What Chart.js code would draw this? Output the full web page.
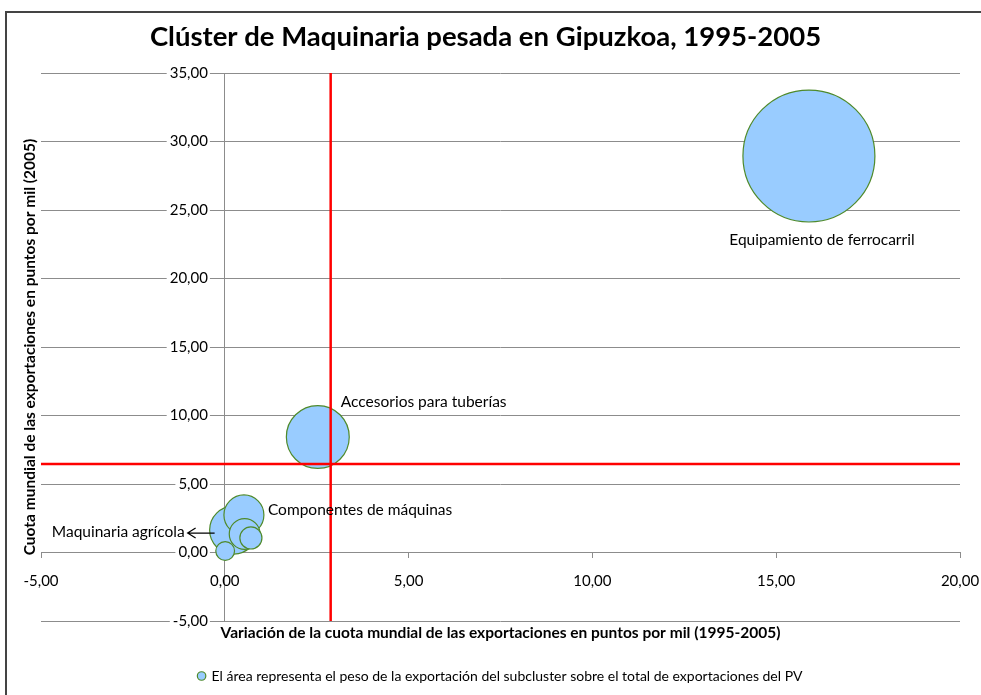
<!DOCTYPE html>
<html>
<head>
<meta charset="utf-8">
<title>Clúster de Maquinaria pesada en Gipuzkoa</title>
<script src="https://cdn.jsdelivr.net/npm/chart.js@4/dist/chart.umd.min.js"></script>
<style>
  html, body { margin: 0; padding: 0; background: #fff; }
  #wrap { position: relative; width: 981px; height: 695px; overflow: hidden; }
  #frame { position: absolute; left: 5px; top: 11px; width: 1000px; height: 700px;
           border-left: 2px solid #444; border-top: 2px solid #444; pointer-events: none; }
  canvas { position: absolute; left: 0; top: 0; }
</style>
</head>
<body>
<div id="wrap">
  <canvas id="myChart" width="981" height="695"></canvas>
  <div id="frame"></div>
</div>
<script>
// subclusters, drawn biggest first so the small ones stay on top
const subclusters = ["Equipamiento de ferrocarril", "Accesorios para tuberías", "Maquinaria agrícola",
  "Componentes de máquinas", null, null, null];
const variation = [15.89, 2.53, 0.24, 0.52, 0.54, 0.71, 0.01];   // x, puntos por mil 1995-2005
const share2005 = [28.94, 8.43, 1.64, 2.74, 1.35, 1.06, 0.11];    // y, puntos por mil 2005
const exportWeight = [64.3, 14.6, 8.5, 5.9, 3.5, 1.8, 1.3];       // % of PV exports -> bubble area

// average lines of the cluster
const avgVariation = 2.88;
const avgShare = 6.46;

const xTicks = { min: -5, max: 20, step: 5 };
const yTicks = { min: -5, max: 35, step: 5 };

const FONT = "Lato";
const fmt = v => Number(v).toFixed(2).replace(".", ",");
const bubbleScale = 8.23; // px of radius per sqrt(% weight)

Chart.defaults.font.family = FONT;
Chart.defaults.color = "#000";

// label placement next to each bubble (pixel offsets from its centre)
const labelPlacement = {
  "Equipamiento de ferrocarril": { dx: 13, dy: "below", gap: 18, align: "center" },
  "Accesorios para tuberías": { dx: 23, dy: -35, align: "left" },
  "Componentes de máquinas": { dx: 24, dy: -5, align: "left" },
  "Maquinaria agrícola": { dx: -49, dy: 2, align: "right", arrow: true }
};

const bubbleLabels = {
  id: "bubbleLabels",
  afterDatasetsDraw(chart) {
    const ctx = chart.ctx;
    const meta = chart.getDatasetMeta(0);
    ctx.save();
    ctx.font = "15.5px " + FONT;
    ctx.fillStyle = "#000";
    ctx.strokeStyle = "#000";
    ctx.textBaseline = "middle";
    subclusters.forEach((name, i) => {
      if (!name) return;
      const p = labelPlacement[name];
      const el = meta.data[i];
      const r = el.options.radius;
      const tx = el.x + p.dx;
      const ty = p.dy === "below" ? el.y + r + p.gap : el.y + p.dy;
      ctx.textAlign = p.align;
      ctx.fillText(name, tx, ty);
      if (p.arrow) {
        const x0 = el.x - 19, x1 = tx + 3, ay = ty + 1;
        ctx.lineWidth = 1.2;
        ctx.beginPath();
        ctx.moveTo(x0, ay);
        ctx.lineTo(x1, ay);
        ctx.moveTo(x1 + 8, ay - 5);
        ctx.lineTo(x1, ay);
        ctx.lineTo(x1 + 8, ay + 5);
        ctx.stroke();
      }
    });
    ctx.restore();
  }
};

const bubbles = variation.map((x, i) => ({
  x: x,
  y: share2005[i],
  r: bubbleScale * Math.sqrt(exportWeight[i])
}));

const data = {
  datasets: [
    {
      type: "bubble",
      label: "El área representa el peso de la exportación del subcluster sobre el total de exportaciones del PV",
      data: bubbles,
      backgroundColor: "#99CCFF",
      borderColor: "#4F8A2B",
      borderWidth: 1.2,
      order: 2
    },
    {
      type: "line",
      label: "media x",
      data: [{ x: avgVariation, y: yTicks.min }, { x: avgVariation, y: yTicks.max }],
      borderColor: "#FF0000",
      borderWidth: 2.5,
      pointRadius: 0,
      fill: false,
      order: 1
    },
    {
      type: "line",
      label: "media y",
      data: [{ x: xTicks.min, y: avgShare }, { x: xTicks.max, y: avgShare }],
      borderColor: "#FF0000",
      borderWidth: 2.5,
      pointRadius: 0,
      fill: false,
      order: 1
    }
  ]
};

const gridGrey = "#8C8C8C";

// the axes cross inside the plot, so they must not reserve room around it
const flatX = scale => { scale.height = 0; scale.paddingLeft = 0; scale.paddingRight = 0; };
const flatY = scale => { scale.width = 0; scale.paddingTop = 0; scale.paddingBottom = 0; };

const config = {
  type: "bubble",
  data: data,
  plugins: [bubbleLabels],
  options: {
    responsive: false,
    animation: false,
    devicePixelRatio: 1,
    events: [],
    layout: { autoPadding: false, padding: { left: 11, right: 21, top: 0, bottom: 2 } },
    plugins: {
      title: {
        display: true,
        text: "Clúster de Maquinaria pesada en Gipuzkoa, 1995-2005",
        font: { family: FONT, size: 27.5, weight: "bold" },
        color: "#000",
        padding: { top: 21, bottom: 19 }
      },
      legend: {
        position: "bottom",
        fullSize: false,
        labels: {
          filter: item => item.datasetIndex === 0,
          usePointStyle: true,
          pointStyle: "circle",
          boxWidth: 6,
          boxHeight: 6,
          padding: 10,
          font: { family: FONT, size: 14 },
          color: "#000"
        }
      },
      tooltip: { enabled: false }
    },
    scales: {
      x: {
        type: "linear",
        position: { y: 0 },
        min: xTicks.min,
        max: xTicks.max,
        afterFit: flatX,
        ticks: {
          stepSize: xTicks.step,
          callback: fmt,
          padding: 15,
          autoSkip: false,
          maxRotation: 0,
          font: { family: FONT, size: 15 },
          color: "#000"
        },
        // only the zero line is drawn across the plot (it is the vertical axis)
        grid: {
          drawOnChartArea: true,
          drawTicks: true,
          tickLength: 5,
          tickColor: gridGrey,
          color: c => (c.tick && c.tick.value === 0 ? gridGrey : "rgba(0,0,0,0)")
        },
        border: { color: gridGrey, width: 1 }
      },
      y: {
        type: "linear",
        // labels hang just left of the zero line
        position: { x: -0.46 },
        min: yTicks.min,
        max: yTicks.max,
        afterFit: flatY,
        ticks: {
          stepSize: yTicks.step,
          callback: fmt,
          padding: 0,
          font: { family: FONT, size: 15 },
          color: "#000",
          showLabelBackdrop: true,
          backdropColor: "#FFFFFF",
          backdropPadding: { left: 3, right: 2, top: 0, bottom: 0 }
        },
        grid: { color: gridGrey, tickLength: 5, lineWidth: 1 },
        border: { display: false }
      },
      xTitle: {
        type: "linear",
        position: "bottom",
        min: xTicks.min,
        max: xTicks.max,
        ticks: { display: false },
        grid: { display: false, drawTicks: false },
        border: { display: false },
        title: {
          display: true,
          text: "Variación de la cuota mundial de las exportaciones en puntos por mil (1995-2005)",
          font: { family: FONT, size: 15.5, weight: "bold" },
          color: "#000",
          padding: { top: 3, bottom: 16.4 }
        }
      },
      yTitle: {
        type: "linear",
        position: "left",
        min: yTicks.min,
        max: yTicks.max,
        ticks: { display: false },
        grid: { display: false, drawTicks: false },
        border: { display: false },
        title: {
          display: true,
          text: "Cuota mundial de las exportaciones en puntos por mil (2005)",
          font: { family: FONT, size: 15.5, weight: "bold" },
          color: "#000",
          padding: { top: 10, bottom: 1.4 }
        }
      }
    }
  }
};

const chart = new Chart(document.getElementById("myChart"), config);
</script>
</body>
</html>
